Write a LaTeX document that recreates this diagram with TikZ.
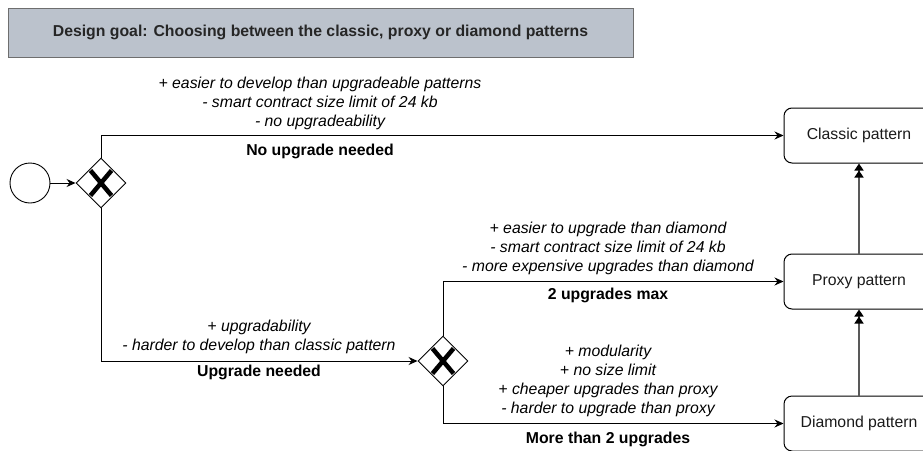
\documentclass[tikz,border=0pt]{standalone}
\usepackage{fontspec}
\setmainfont{Liberation Sans}
\usetikzlibrary{shapes.geometric,arrows.meta,positioning}
\definecolor{titlefill}{HTML}{BBC2CC}
\definecolor{titleline}{HTML}{6E6E6E}
\definecolor{txt}{HTML}{1A1A1A}
\newcommand{\fsz}{\fontsize{15.8}{19}\selectfont}
\begin{document}
\begin{tikzpicture}[x=1pt,y=-1pt,
  every node/.style={font=\fsz, text=txt},
  titlebox/.style={draw=titleline, line width=1pt, fill=titlefill, minimum width=625pt, minimum height=49pt, inner sep=0pt, font=\fsz\bfseries, text=black!85},
  startev/.style={circle, draw=black, line width=0.9pt, minimum size=40pt, inner sep=0pt},
  gateway/.style={diamond, draw=black, line width=0.9pt, minimum width=50pt, minimum height=50pt, inner sep=0pt, shape aspect=1},
  patbox/.style={draw=black, line width=1pt, rounded corners=8pt, minimum width=150pt, minimum height=55pt, inner sep=0pt},
  pro/.style={align=center, font=\fsz\itshape, text=black},
  cond/.style={font=\fsz\bfseries, text=black},
  flow/.style={draw=black, line width=0.9pt, -{Stealth[length=9pt,width=8pt,inset=3pt]}},
  upflow/.style={draw=black!65, line width=1.4pt, -{Triangle[length=7pt,width=9pt,color=black]Triangle[length=7pt,width=9pt,color=black]}},
  xmark/.style={line width=4.5pt, black}
]
\useasboundingbox (0,0) rectangle (923,450);
\clip (0,0) rectangle (923,450);

\node[titlebox] (title) at (320.5,32.5) {Design goal: Choosing between the classic, proxy or diamond patterns};

\node[startev] (start) at (30,183) {};
\node[gateway] (gw1) at (101,183) {};
\node[gateway] (gw2) at (443,361) {};
\foreach \g in {gw1,gw2}{
  \draw[xmark] ([xshift=-10.5pt,yshift=12.5pt]\g.center) -- ([xshift=10.5pt,yshift=-12.5pt]\g.center);
  \draw[xmark] ([xshift=-10.5pt,yshift=-12.5pt]\g.center) -- ([xshift=10.5pt,yshift=12.5pt]\g.center);
}

\node[patbox] (classic) at (859,135.5) {Classic pattern};
\node[patbox] (proxy) at (859,281.5) {Proxy pattern};
\node[patbox] (diam) at (859,423.5) {Diamond pattern};

\draw[flow] (start) -- (gw1);
\draw[flow] (gw1.north) |- (classic.west);
\draw[flow] (gw1.south) |- (gw2.west);
\draw[flow] (gw2.north) |- (proxy.west);
\draw[flow] (gw2.south) |- (diam.west);
\draw[upflow] (proxy.north) -- (classic.south);
\draw[upflow] (diam.north) -- (proxy.south);

\node[pro] (l1) at (320,103) {+ easier to develop than upgradeable patterns\\- smart contract size limit of 24 kb\\- no upgradeability};
\node[cond] (c1) at (320,151) {No upgrade needed};

\node[pro] (l2) at (608,248) {+ easier to upgrade than diamond\\- smart contract size limit of 24 kb\\- more expensive upgrades than diamond};
\node[cond] (c2) at (608,295) {2 upgrades max};

\node[pro] (l3) at (259,336.5) {+ upgradability\\- harder to develop than classic pattern};
\node[cond] (c3) at (259,372) {Upgrade needed};

\node[pro] (l4) at (608,380.5) {+ modularity\\+ no size limit\\+ cheaper upgrades than proxy\\- harder to upgrade than proxy};
\node[cond] (c4) at (608,439) {More than 2 upgrades};
\end{tikzpicture}
\end{document}
